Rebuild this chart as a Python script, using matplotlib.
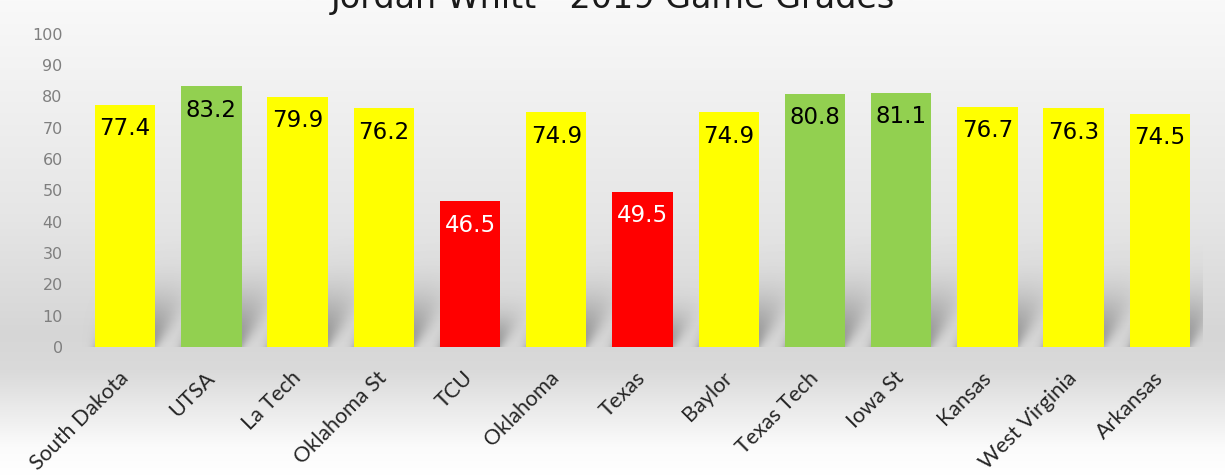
import numpy as np
import matplotlib.pyplot as plt
import matplotlib.transforms as mtransforms
from matplotlib.colors import LinearSegmentedColormap

teams = ['South Dakota', 'UTSA', 'La Tech', 'Oklahoma St', 'TCU', 'Oklahoma',
         'Texas', 'Baylor', 'Texas Tech', 'Iowa St', 'Kansas', 'West Virginia',
         'Arkansas']
grades = [77.4, 83.2, 79.9, 76.2, 46.5, 74.9, 49.5, 74.9, 80.8, 81.1, 76.7, 76.3, 74.5]
bar_colors = ['#FFFF00', '#92D050', '#FFFF00', '#FFFF00', '#FF0000', '#FFFF00',
              '#FF0000', '#FFFF00', '#92D050', '#92D050', '#FFFF00', '#FFFF00',
              '#FFFF00']
label_colors = ['white' if c == '#FF0000' else 'black' for c in bar_colors]
yticks = [0, 10, 20, 30, 40, 50, 60, 70, 80, 90, 100]

fig = plt.figure(figsize=(12.25, 4.76), dpi=100)

# gradient background over the whole figure
bg = fig.add_axes([0, 0, 1, 1], zorder=-10)
grad_cmap = LinearSegmentedColormap.from_list(
    'bg', [(0.0, '#ffffff'), (0.06, '#fbfbfb'), (0.22, '#dadada'),
           (0.30, '#d6d6d6'), (0.55, '#e6e6e6'), (1.0, '#f9f9f9')])
bg.imshow(np.linspace(0, 1, 256).reshape(-1, 1), aspect='auto', cmap=grad_cmap,
          extent=[0, 1, 0, 1], origin='lower')
bg.axis('off')

ax = fig.add_axes([0.067, 0.271, 0.915, 0.658])
ax.patch.set_alpha(0)
x = np.arange(len(teams))
w = 0.7
xmin, xmax = -0.5, len(teams) - 0.5

# soft perspective shadow behind the bars, drawn as one blurred image
uu, vv = np.meshgrid(np.linspace(xmin, xmax, 1300), np.linspace(0, 60, 300))
alpha = np.zeros_like(uu)
for xi, g in zip(x, grades):
    shifted = uu - 0.02 * vv
    blur = 0.03 + 0.004 * vv
    left = 1 / (1 + np.exp(-(shifted - (xi - w / 2)) / blur))
    right = 1 / (1 + np.exp((shifted - (xi + w / 2)) / blur))
    fade = np.exp(-(vv / (0.2 * g)) ** 2)
    alpha = np.maximum(alpha, 0.6 * left * right * fade)
shadow = np.zeros(uu.shape + (4,))
shadow[..., :3] = 0.38
shadow[..., 3] = alpha
ax.imshow(shadow, extent=[xmin, xmax, 0, 60], origin='lower', aspect='auto',
          zorder=2, interpolation='bilinear')

bars = ax.bar(x, grades, width=w, color=bar_colors, zorder=3)

for xi, g, lc in zip(x, grades, label_colors):
    ax.annotate(f'{g}', (xi, g), xytext=(0, -24), textcoords='offset pixels',
                ha='center', va='center', fontsize=16.5, color=lc, zorder=4)

ax.set_xlim(xmin, xmax)
ax.set_ylim(0, 100)
ax.set_yticks(yticks)
ax.tick_params(axis='y', length=0, labelsize=11.5, labelcolor='#7f7f7f', pad=14)
ax.set_xticks(x)
ax.set_xticklabels(teams, rotation=45, ha='right', rotation_mode='anchor',
                   fontsize=15.5, color='#262626', family='Lato')
ax.tick_params(axis='x', length=0, pad=15)
shift = mtransforms.ScaledTranslation(-7 / 100, 0, fig.dpi_scale_trans)
for lab in ax.get_xticklabels():
    lab.set_transform(lab.get_transform() + shift)
for s in ax.spines.values():
    s.set_visible(False)

fig.text(0.5, 1.004, 'Jordan Whitt - 2019 Game Grades', ha='center', va='center',
         fontsize=24, color='#1a1a1a')

plt.savefig('out.png', dpi=100)
